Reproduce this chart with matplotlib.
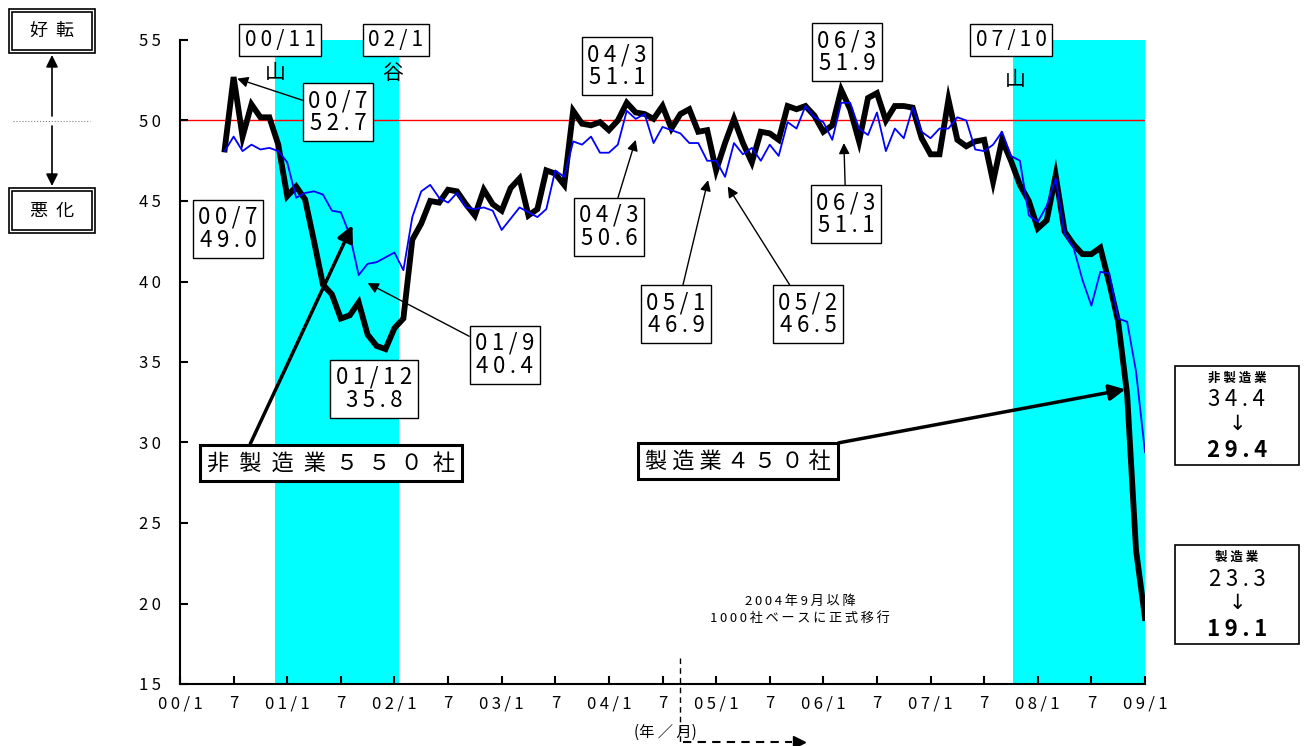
import numpy as np
import matplotlib.pyplot as plt
from matplotlib.patches import Rectangle

plt.rcParams['font.family'] = ['Noto Sans CJK JP', 'DejaVu Sans']

W, H = 1304, 746

# 月番号は 00/1 を 0 とする。データは 00/6 (5) から 09/1 (108) まで
start_month = 5
seizo = [48.2, 52.7, 49.0, 51.0, 50.2, 50.2, 48.5,
         45.3, 45.9, 45.1, 42.5, 39.8, 39.2, 37.7, 37.9, 38.7, 36.7, 36.0, 35.8,
         37.1, 37.7, 42.6, 43.6, 45.0, 44.9, 45.7, 45.6, 44.8, 44.1, 45.7, 44.8,
         44.4, 45.8, 46.4, 44.1, 44.5, 46.9, 46.7, 46.0, 50.6, 49.8, 49.7, 49.9,
         49.4, 50.0, 51.1, 50.5, 50.4, 50.1, 50.9, 49.5, 50.4, 50.7, 49.3, 49.4,
         46.9, 48.6, 50.1, 48.6, 47.4, 49.3, 49.2, 48.8, 50.9, 50.7, 50.9, 50.3,
         49.3, 49.7, 51.9, 50.7, 48.7, 51.4, 51.7, 50.0, 50.9, 50.9, 50.8, 48.9,
         47.9, 47.9, 51.3, 48.8, 48.4, 48.7, 48.8, 46.2, 48.8, 47.5, 46.0, 45.0,
         43.3, 43.8, 46.6, 43.1, 42.3, 41.7, 41.7, 42.1, 39.9, 37.5, 33.0, 23.3,
         19.1]
hiseizo = [48.1, 49.0, 48.1, 48.5, 48.2, 48.3, 48.1,
           47.4, 45.2, 45.5, 45.6, 45.4, 44.4, 44.3, 42.9, 40.4, 41.1, 41.2, 41.5,
           41.8, 40.7, 44.0, 45.6, 46.0, 45.2, 44.9, 45.5, 44.6, 44.5, 44.6, 44.4,
           43.2, 43.9, 44.6, 44.3, 44.0, 44.5, 46.9, 46.5, 48.7, 48.5, 49.0, 48.0,
           48.0, 48.5, 50.6, 50.1, 50.4, 48.6, 49.6, 49.4, 49.2, 48.6, 48.6, 47.5,
           47.5, 46.5, 48.6, 47.9, 48.3, 47.5, 48.5, 47.8, 49.9, 49.5, 50.9, 50.2,
           49.9, 48.8, 51.1, 51.1, 49.5, 49.1, 50.5, 48.1, 49.5, 48.9, 50.8, 49.3,
           48.9, 49.5, 49.5, 50.2, 50.0, 48.2, 48.1, 48.5, 49.3, 47.8, 47.5, 44.1,
           43.7, 44.7, 46.4, 43.0, 42.1, 40.1, 38.5, 40.6, 40.5, 37.7, 37.5, 34.4,
           29.4]
months = np.arange(start_month, start_month + len(seizo))

xtick_labels = ['00/1', '7', '01/1', '7', '02/1', '7', '03/1', '7', '04/1', '7',
                '05/1', '7', '06/1', '7', '07/1', '7', '08/1', '7', '09/1']
ytick_vals = [15, 20, 25, 30, 35, 40, 45, 50, 55]

# 景気後退期（山～谷）
shade_spans = [(10.6, 24.5), (93.2, 108)]


def sp(s):
    # 文字間を少し空ける
    return '\u2009'.join(s)


def fpos(x, y):
    # 画像左上基準のピクセル位置 → figure 座標
    return (x / W, 1 - y / H)


def val(series, m):
    return series[m - start_month]


fig = plt.figure(figsize=(W / 100, H / 100), dpi=100)
ax = fig.add_axes([180 / W, 1 - 684 / H, 965 / W, 644 / H])

for a, b in shade_spans:
    ax.axvspan(a, b, color='#00ffff', lw=0, zorder=0)
ax.axhline(50, color='red', lw=1, zorder=1)
ax.plot(months, seizo, color='black', lw=4.2, solid_joinstyle='miter', zorder=3)
ax.plot(months, hiseizo, color='#0000ff', lw=1.3, zorder=4)

ax.set_xlim(0, 108)
ax.set_ylim(15, 55)
ax.set_xticks(np.arange(0, 6 * len(xtick_labels), 6))
ax.set_xticklabels([sp(s) for s in xtick_labels], fontsize=12)
ax.set_yticks(ytick_vals)
ax.set_yticklabels([sp(str(v)) for v in ytick_vals], fontsize=12)
ax.tick_params(direction='in', length=6, width=1.5)
ax.tick_params(axis='y', pad=14)
ax.tick_params(axis='x', pad=8)
for s in ['top', 'right']:
    ax.spines[s].set_visible(False)
for s in ['left', 'bottom']:
    ax.spines[s].set_linewidth(1.5)

box = dict(boxstyle='square,pad=0.25', fc='white', ec='black', lw=1)
thin = dict(arrowstyle='-|>', color='black', lw=1, mutation_scale=16, shrinkA=0, shrinkB=0)

# 山・谷の時期
for txt, x in [('00/11', 280), ('02/1', 396), ('07/10', 1011)]:
    fig.text(*fpos(x, 40), sp(txt), fontsize=15, ha='center', va='center', bbox=box)
fig.text(*fpos(275, 73), '山', fontsize=15, ha='center', va='center')
fig.text(*fpos(393, 73), '谷', fontsize=15, ha='center', va='center')
fig.text(*fpos(1015, 80), '山', fontsize=15, ha='center', va='center')


def note(label, series, m, pos, tip=None):
    txt = sp(label) + '\n' + sp('%.1f' % val(series, m))
    if tip is None:
        fig.text(*fpos(*pos), txt, fontsize=16, ha='center', va='center',
                 bbox=box, linespacing=1.0, zorder=6)
    else:
        ax.annotate(txt, xy=tip, xycoords='data', xytext=fpos(*pos),
                    textcoords='figure fraction', fontsize=16, ha='center',
                    va='center', bbox=box, linespacing=1.0, arrowprops=thin,
                    zorder=6, annotation_clip=False)


note('00/7', seizo, 6, (338, 112), tip=(6.4, 52.6))
note('00/7', hiseizo, 6, (228, 229))
note('01/12', seizo, 23, (374, 389))
note('01/9', hiseizo, 20, (505, 355), tip=(21.0, 39.9))
note('04/3', seizo, 50, (617, 66))
note('04/3', hiseizo, 50, (609, 227), tip=(51.0, 48.8))
note('05/1', seizo, 60, (676, 314), tip=(59.1, 46.3))
note('05/2', hiseizo, 61, (808, 314), tip=(61.3, 45.9))
note('06/3', seizo, 74, (847, 52))
note('06/3', hiseizo, 74, (846, 214), tip=(74.3, 48.6))

# 系列名
bigbox = dict(boxstyle='square,pad=0.3', fc='white', ec='black', lw=2.2)
for name, gap, tip, pos, rel in [('非製造業５５０社', '  ', (19.3, 43.5), (331, 463), (0.16, 1.0)),
                                 ('製造業４５０社', ' ', (105.8, 33.3), (738, 461), (0.85, 1.0))]:
    ax.annotate(gap.join(name), xy=tip, xytext=fpos(*pos),
                textcoords='figure fraction', fontsize=16, ha='center', va='center',
                bbox=bigbox, zorder=6, annotation_clip=False,
                arrowprops=dict(arrowstyle='-|>', color='black', lw=2.5,
                                mutation_scale=24, shrinkA=0, shrinkB=0, relpos=rel))

# 直近の変化（右側の枠）
for name, series, top in [('非製造業', hiseizo, 366), ('製造業', seizo, 545)]:
    fig.patches.append(Rectangle(fpos(1175, top + 99), 124 / W, 99 / H,
                                 transform=fig.transFigure, fc='white', ec='black', lw=1.2))
    fig.text(*fpos(1237, top + 12), ' '.join(name), fontsize=9, fontweight='bold',
             ha='center', va='center')
    fig.text(*fpos(1237, top + 34), sp('%.1f' % series[-2]), fontsize=16,
             ha='center', va='center')
    fig.text(*fpos(1237, top + 58), '↓', fontsize=15,
             family='DejaVu Sans', ha='center', va='center')
    fig.text(*fpos(1237, top + 85), sp('%.1f' % series[-1]), fontsize=16,
             fontweight='bold', ha='center', va='center')

# 好転・悪化の目安
for txt, y0, y1 in [('好  転', 9, 53), ('悪  化', 188, 233)]:
    fig.patches.append(Rectangle(fpos(9, y1), 86 / W, (y1 - y0) / H,
                                 transform=fig.transFigure, fc='white', ec='black', lw=1.2))
    fig.patches.append(Rectangle(fpos(12, y1 - 3), 80 / W, (y1 - y0 - 6) / H,
                                 transform=fig.transFigure, fc='none', ec='black', lw=1.2))
    fig.text(*fpos(52, (y0 + y1) / 2), txt, fontsize=13, ha='center', va='center')
fig.add_artist(plt.Line2D([13 / W, 90 / W], [1 - 121 / H] * 2, color='gray',
                          lw=0.8, ls=':'))
for y_from, y_to in [(116, 55), (126, 186)]:
    ax.annotate('', xy=fpos(52, y_to), xytext=fpos(52, y_from), xycoords='figure fraction',
                arrowprops=dict(arrowstyle='-|>', color='black', lw=1.2, mutation_scale=18,
                                shrinkA=0, shrinkB=0))

# 04/9 以降の調査対象変更
switch = 56
ax.plot([switch, switch], [16.6, 11.1], color='black', lw=1, ls=(0, (4, 3)),
        clip_on=False, zorder=5)
ax.plot([switch + 0.3, 68.5], [11.4, 11.4], color='black', lw=1.5, ls=(0, (4, 3)),
        clip_on=False, zorder=5)
ax.plot([69.3], [11.4], marker='>', color='black', ms=9, clip_on=False, zorder=5)
fig.text(*fpos(800, 601), sp('2004年9月以降'), fontsize=9.5, ha='center', va='center')
fig.text(*fpos(800, 618), sp('1000社ベースに正式移行'), fontsize=9.5, ha='center',
         va='center')
fig.text(*fpos(665, 732), '(年 ／ 月)', fontsize=11, ha='center', va='center')

fig.savefig('out.png', dpi=100)
